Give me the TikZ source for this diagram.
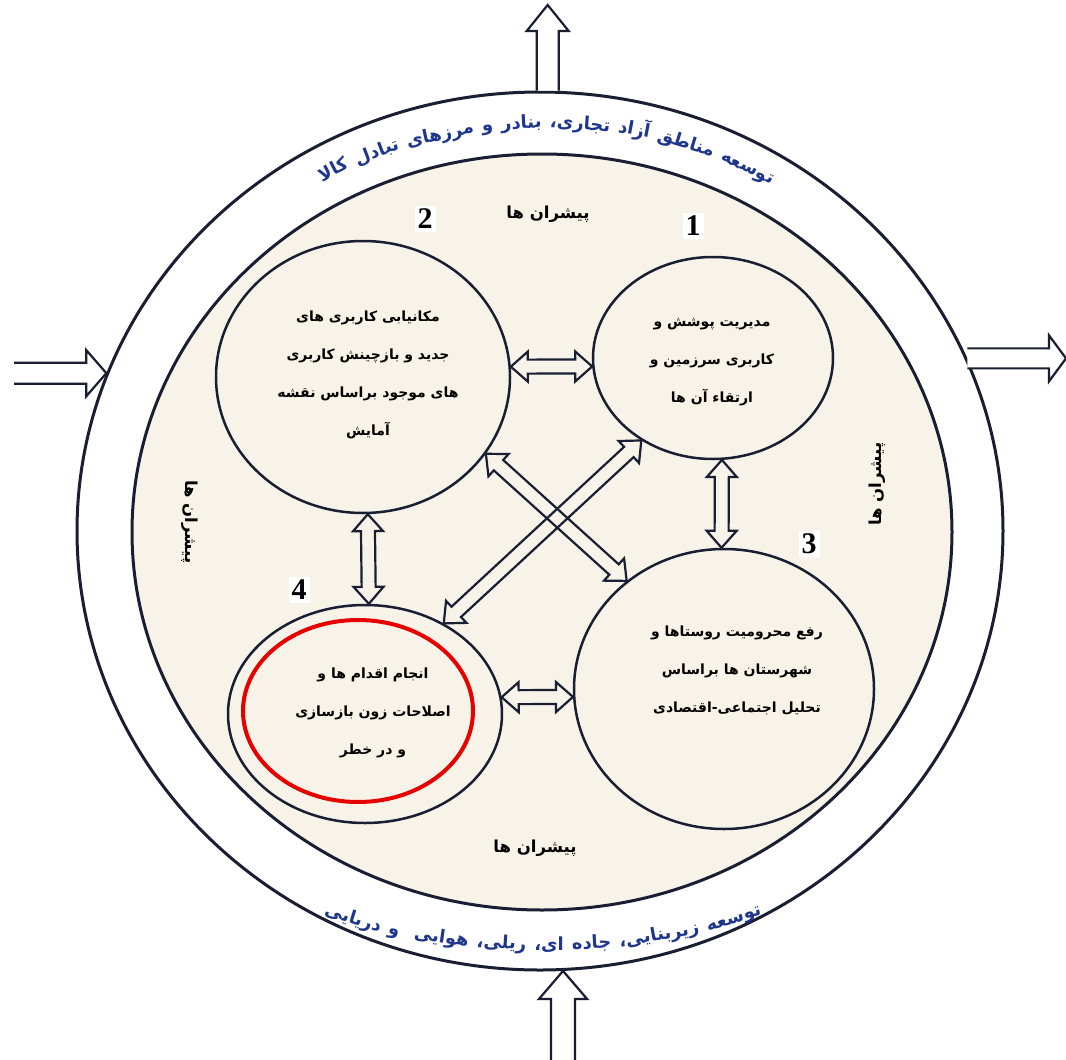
\documentclass[tikz,border=0pt]{standalone}
\usepackage{fontspec}
\usetikzlibrary{shapes.geometric,calc}
\setmainfont{Liberation Serif}
\newfontfamily\fa[Script=Arabic]{DejaVu Sans}
\TeXXeTstate=1
\definecolor{ink}{RGB}{25,30,50}
\definecolor{beige}{RGB}{248,243,232}
\definecolor{ringblue}{RGB}{30,55,140}
\definecolor{markred}{RGB}{230,0,0}
\def\ahl{17pt}\def\ahw{15pt}\def\asw{7pt}
\def\rgap{7.5pt}
\def\bgap{8pt}
\newcommand\ringfont{\fa\bfseries\fontsize{18}{20}\selectfont}
\newcommand\dblarrow[2]{%
\draw[arrowline] (#1) -- ($(#1)!\ahl!(#2)!\ahw!90:(#2)$) -- ($(#1)!\ahl!(#2)!\asw!90:(#2)$)
 -- ($(#2)!\ahl!(#1)!\asw!-90:(#1)$) -- ($(#2)!\ahl!(#1)!\ahw!-90:(#1)$) -- (#2)
 -- ($(#2)!\ahl!(#1)!\ahw!90:(#1)$) -- ($(#2)!\ahl!(#1)!\asw!90:(#1)$)
 -- ($(#1)!\ahl!(#2)!\asw!-90:(#2)$) -- ($(#1)!\ahl!(#2)!\ahw!-90:(#2)$) -- cycle;}
% #1 tail, #2 tip, #3 head length, #4 head half width, #5 shaft half width
\newcommand\bigarrow[5]{%
\draw[arrowline, fill=white] ($(#1)!#5!90:(#2)$) -- ($(#2)!#3!(#1)!#5!-90:(#1)$) -- ($(#2)!#3!(#1)!#4!-90:(#1)$) -- (#2)
 -- ($(#2)!#3!(#1)!#4!90:(#1)$) -- ($(#2)!#3!(#1)!#5!90:(#1)$) -- ($(#1)!#5!-90:(#2)$);}
% chained ring words: name, previous node, rotation, gap, word
\newcommand\wordright[5]{\node[ringtxt, anchor=base west, rotate=#3] (#1) at ($(#2.base east)!-#4!(#2.base west)$) {\beginR #5\endR};}
\newcommand\wordleft[5]{\node[ringtxt, anchor=base east, rotate=#3] (#1) at ($(#2.base west)!-#4!(#2.base east)$) {\beginR #5\endR};}
\tikzset{
 circ/.style={ellipse, draw=ink, line width=2.5pt, inner sep=0pt},
 ctext/.style={font=\fa\bfseries\fontsize{14}{38}\selectfont, align=center, text=black},
 num/.style={fill=white, font=\bfseries\fontsize{30}{30}\selectfont, inner sep=3pt},
 lbl/.style={font=\fa\bfseries\fontsize{16.5}{18}\selectfont},
 ringtxt/.style={font=\ringfont, text=ringblue, inner sep=0pt},
 arrowline/.style={draw=ink, line width=2.2pt, line join=miter},
}
\begin{document}
\begin{tikzpicture}[x=1pt,y=-1pt]
\useasboundingbox (0,0) rectangle (1066,1060);
\fill[white] (0,0) rectangle (1066,1060);
% rings
\node[ellipse, draw=ink, line width=3pt, fill=white, inner sep=0pt, minimum width=926pt, minimum height=878pt] (outer) at (540,531) {};
\node[ellipse, draw=ink, line width=3pt, fill=beige, inner sep=0pt, minimum width=820pt, minimum height=756pt] (inner) at (542,532) {};
% circles
\node[circ, minimum width=294pt, minimum height=272pt] (c2) at (363,377) {};
\node[circ, minimum width=240pt, minimum height=202pt] (c1) at (713,358) {};
\node[circ, minimum width=300pt, minimum height=280pt] (c3) at (724,689) {};
\node[circ, minimum width=274pt, minimum height=218pt] (c4) at (365,714) {};
\node[ellipse, draw=markred, line width=4pt, inner sep=0pt, minimum width=230pt, minimum height=182pt] (red) at (358,711) {};
% outer arrows
\coordinate (topend) at (outer.89 |- 0,5);
\coordinate (botend) at (outer.-87 |- 0,1060);
\coordinate (leftend) at (14,0 |- outer.160);
\coordinate (rightend) at (1066,0 |- outer.22);
\bigarrow{outer.89}{topend}{26pt}{21pt}{11pt}
\bigarrow{botend}{outer.-87}{28pt}{24pt}{12pt}
\bigarrow{leftend}{outer.160}{20pt}{23pt}{10.5pt}
\bigarrow{outer.22}{rightend}{17pt}{23pt}{10pt}
% inner arrows
\dblarrow{c2.4}{c1.184}
\dblarrow{c1.-85}{c3.91}
\dblarrow{c2.-88}{c4.88}
\dblarrow{c4.7}{c3.183}
\dblarrow{c2.-32}{c3.132}
\dblarrow{c1.229}{c4.49}
% circle texts
\node[ctext] (t2) at (368,375) {\beginR مکانیابی کاربری های\endR\\\beginR جدید و بازچینش کاربری\endR\\\beginR های موجود براساس نقشه\endR\\\beginR آمایش\endR};
\node[ctext] (t1) at (712,362) {\beginR مدیریت پوشش و\endR\\\beginR کاربری سرزمین و\endR\\\beginR ارتقاء آن ها\endR};
\node[ctext] (t3) at (737,670) {\beginR رفع محرومیت روستاها و\endR\\\beginR شهرستان ها براساس\endR\\\beginR تحلیل اجتماعی-اقتصادی\endR};
\node[ctext] (t4) at (373,713) {\beginR انجام اقدام ها و\endR\\\beginR اصلاحات زون بازسازی\endR\\\beginR و در خطر\endR};
% numbers
\node[num] (n2) at (425,219) {2};
\node[num] (n1) at (693,226) {1};
\node[num] (n3) at (809,544) {3};
\node[num] (n4) at (299,590) {4};
% drivers labels
\node[lbl] (ltop) at (548,214) {\beginR پیشران ها\endR};
\node[lbl] (lbot) at (535,848) {\beginR پیشران ها\endR};
\node[lbl, rotate=90] (lright) at (877,484) {\beginR پیشران ها\endR};
\node[lbl, rotate=-90] (lleft) at (190,522) {\beginR پیشران ها\endR};
% top ring text (visual order left to right: tw1 ... tw9)
\node[ringtxt, anchor=base, rotate=6.5] (tw4) at (488,131) {\beginR و\endR};
\wordright{tw5}{tw4}{2.6}{\rgap}{بنادر}
\wordright{tw6}{tw5}{-4.1}{\rgap}{تجاری،}
\wordright{tw7}{tw6}{-10.7}{\rgap}{آزاد}
\wordright{tw8}{tw7}{-17.2}{\rgap}{مناطق}
\wordright{tw9}{tw8}{-25.9}{\rgap}{توسعه}
\wordleft{tw3}{tw4}{12.4}{\rgap}{مرزهای}
\wordleft{tw2}{tw3}{20.8}{\rgap}{تبادل}
\wordleft{tw1}{tw2}{27.5}{\rgap}{کالا}
% bottom ring text (visual order left to right: bw1 ... bw8)
\node[ringtxt, anchor=base, rotate=0] (bw5) at (549,950) {\beginR ای،\endR};
\wordright{bw6}{bw5}{3.1}{\bgap}{جاده}
\wordright{bw7}{bw6}{10.2}{\bgap}{زیربنایی،}
\wordright{bw8}{bw7}{17.6}{\bgap}{توسعه}
\wordleft{bw4}{bw5}{-3.4}{\bgap}{ریلی،}
\wordleft{bw3}{bw4}{-8.3}{\bgap}{هوایی}
\wordleft{bw2}{bw3}{-13}{15pt}{و}
\wordleft{bw1}{bw2}{-17.2}{\bgap}{دریایی}
\end{tikzpicture}
\end{document}
